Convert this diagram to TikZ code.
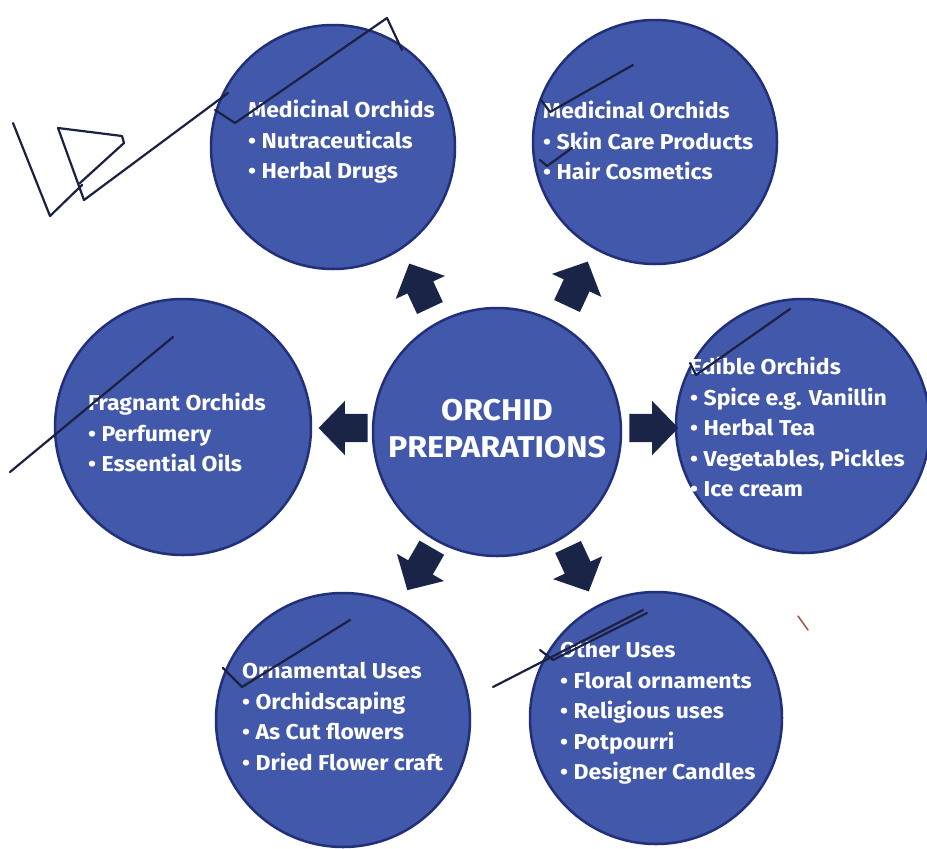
\documentclass[tikz,border=0pt]{standalone}
\usepackage{fontspec}
\setmainfont{Fira Sans}[BoldFont={Fira Sans Bold}]
\newfontfamily\bubblefont{Fira Sans Bold}[FakeStretch=1.07]
\usetikzlibrary{shapes.arrows}
\definecolor{bubbleblue}{HTML}{4258AA}
\definecolor{bubbleedge}{HTML}{22307A}
\definecolor{arrowdark}{HTML}{1A2446}
\definecolor{penink}{HTML}{1B2140}
\definecolor{redink}{HTML}{A0524A}
\tikzset{
  bubble/.style={circle, fill=bubbleblue, draw=bubbleedge, line width=2.5pt, inner sep=0pt},
  blockarrow/.style={single arrow, fill=arrowdark, draw=none, inner sep=0pt,
    minimum height=49pt, single arrow head extend=13pt,
    single arrow tip angle=92},
  bubbletext/.style={anchor=north west, inner sep=0pt, align=left, text=white,
    font={\bubblefont\fontsize{21.5}{30.5}\selectfont}},
  pen/.style={draw=penink, line width=2.2pt, line cap=round, line join=round},
}
\newcommand{\shaft}{\rule{0pt}{28pt}}
\begin{document}
\begin{tikzpicture}[x=1pt, y=-1pt]
\useasboundingbox (0,0) rectangle (927,849);
% circles
\node[bubble, minimum size=244pt] (tl) at (333,147) {};
\node[bubble, minimum size=244pt] (tr) at (655,142) {};
\node[bubble, minimum size=248pt] (c) at (497,432) {};
\node[bubble, minimum size=256pt] (l) at (183,427) {};
\node[bubble, minimum size=254pt] (r) at (803,426) {};
\node[bubble, minimum size=254pt] (bl) at (343,720) {};
\node[bubble, minimum size=252pt] (br) at (656,718) {};
% center text
\node[text=white, align=center, inner sep=0pt,
  font={\bubblefont\fontsize{30}{37}\selectfont}] (ct) at (497,429) {ORCHID\\PREPARATIONS};
% arrows
\node[blockarrow, rotate=115] (a1) at (422.5,292) {\shaft};
\node[blockarrow, rotate=65] (a2) at (574.5,290) {\shaft};
\node[blockarrow, rotate=180] (a3) at (350,428) {\shaft};
\node[blockarrow, rotate=0] (a4) at (647,428) {\shaft};
\node[blockarrow, rotate=240] (a5) at (423,563) {\shaft};
\node[blockarrow, rotate=295] (a6) at (575.5,563) {\shaft};
% texts
\node[bubbletext] (ttl) at (248,100) {Medicinal Orchids\\• Nutraceuticals\\• Herbal Drugs};
\node[bubbletext] (ttr) at (543,101) {Medicinal Orchids\\• Skin Care Products\\• Hair Cosmetics};
\node[bubbletext] (tl2) at (88,393) {Fragnant Orchids\\• Perfumery\\• Essential Oils};
\node[bubbletext] (tr2) at (690,357) {Edible Orchids\\• Spice e.g. Vanillin\\• Herbal Tea\\• Vegetables, Pickles\\• Ice cream};
\node[bubbletext] (tbl) at (242,662) {Ornamental Uses\\• Orchidscaping\\• As Cut flowers\\• Dried Flower craft};
\node[bubbletext] (tbr) at (560,641) {Other Uses\\• Floral ornaments\\• Religious uses\\• Potpourri\\• Designer Candles};
% pen marks
\draw[pen] (13,123) -- (50,216) -- (82,185);
\draw[pen] (58,128) -- (84,200) -- (228,93);
\draw[pen] (58,128) -- (122,136) -- (124,143) -- (80,183);
\draw[pen] (215,110) -- (235,123) -- (387,18) -- (402,50);
\draw[pen] (541,100) -- (550,112) -- (633,65);
\draw[pen] (540,160) -- (547,166) -- (572,148);
\draw[pen] (10,472) -- (173,337);
\draw[pen] (690,363) -- (696,375) -- (790,309);
\draw[pen] (223,668) -- (242,687) -- (350,620);
\draw[pen] (493,687) -- (643,610);
\draw[pen] (540,650) -- (553,660) -- (647,613);
\draw[draw=redink, line width=1.5pt, line cap=round] (798,616) -- (808,630);
\end{tikzpicture}
\end{document}
